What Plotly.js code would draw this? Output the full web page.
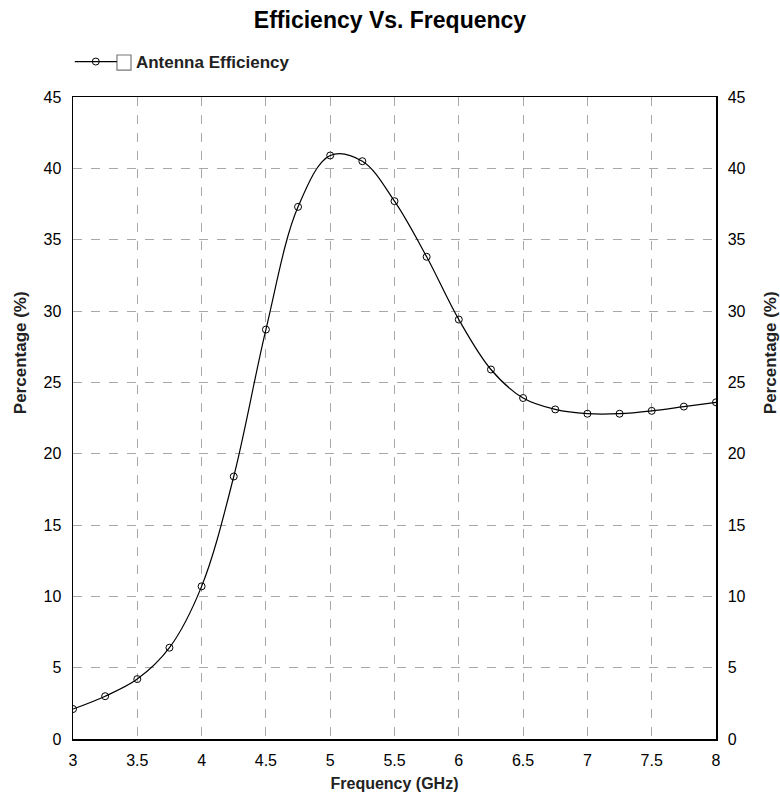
<!DOCTYPE html>
<html>
<head>
<meta charset="utf-8">
<script src="https://cdn.plot.ly/plotly-3.0.1.min.js"></script>
<style>html,body{margin:0;padding:0;background:#fff;}#chart{width:780px;height:793px;}</style>
</head>
<body>
<div id="chart"></div>
<script>
var frequency = [3, 3.25, 3.5, 3.75, 4, 4.25, 4.5, 4.75, 5, 5.25, 5.5, 5.75, 6, 6.25, 6.5, 6.75, 7, 7.25, 7.5, 7.75, 8];
var efficiency = [2.1, 3.0, 4.2, 6.4, 10.7, 18.4, 28.7, 37.3, 40.9, 40.5, 37.7, 33.8, 29.4, 25.9, 23.9, 23.1, 22.8, 22.8, 23.0, 23.3, 23.6];
var xTicks = [3, 3.5, 4, 4.5, 5, 5.5, 6, 6.5, 7, 7.5, 8];
var yTicks = [0, 5, 10, 15, 20, 25, 30, 35, 40, 45];

var fnt = '"Liberation Sans Narrow", "Arial Narrow", "Liberation Sans", Arial, sans-serif';
var fntB = '"Liberation Sans", Arial, sans-serif';

var traces = [
  {
    x: frequency, y: efficiency, type: 'scatter', mode: 'lines+markers',
    name: '\u00a0\u00a0\u00a0Antenna Efficiency',
    line: {color: '#000', width: 1.2, shape: 'spline', smoothing: 1},
    marker: {symbol: 'circle-open', size: 7, color: '#000', line: {width: 1}},
    xaxis: 'x', yaxis: 'y'
  },
  {
    x: frequency, y: efficiency, type: 'scatter', mode: 'lines',
    showlegend: false, hoverinfo: 'skip', opacity: 0,
    xaxis: 'x', yaxis: 'y2'
  }
];

var axisCommon = {
  range: [0, 45], tickvals: yTicks, ticktext: yTicks.map(String),
  showgrid: true, gridcolor: '#a8a8a8', griddash: 'dash', gridwidth: 1,
  showline: true, linecolor: '#000', linewidth: 1.5,
  ticks: '', zeroline: false, ticklabelstandoff: 7,
  tickfont: {family: fnt, size: 16, color: '#000'}
};

var titleFont = {family: fntB, size: 17, color: '#222', weight: 'bold'};

var layout = {
  width: 780, height: 793,
  margin: {l: 73, r: 64, t: 97, b: 54},
  paper_bgcolor: '#fff', plot_bgcolor: '#fff',
  title: {text: '<b>Efficiency Vs. Frequency</b>', font: {family: fntB, size: 23, color: '#000'}, x: 0.5, xanchor: 'center', y: 0.975, yanchor: 'middle'},
  showlegend: true,
  legend: {x: -0.005, y: 1.0545, xanchor: 'left', yanchor: 'middle', orientation: 'h', itemwidth: 42,
    font: {family: fntB, size: 17, color: '#222', weight: 'bold'}, bgcolor: 'rgba(0,0,0,0)'},
  xaxis: {
    range: [3, 8], tickvals: xTicks, ticktext: xTicks.map(String),
    showgrid: true, gridcolor: '#a8a8a8', griddash: 'dash', gridwidth: 1,
    showline: true, linecolor: '#000', linewidth: 1.5, mirror: true,
    ticks: '', zeroline: false, ticklabelstandoff: 6,
    tickfont: {family: fnt, size: 16, color: '#000'},
    title: {text: 'Frequency (GHz)', font: {family: fntB, size: 16, color: '#222', weight: 'bold'}, standoff: 10}
  },
  yaxis: Object.assign({}, axisCommon, {side: 'left'}),
  yaxis2: Object.assign({}, axisCommon, {side: 'right', overlaying: 'y', showgrid: false}),
  annotations: [
    {text: '<b>Percentage (%)</b>', xref: 'paper', yref: 'paper', x: -0.0824, y: 0.601, textangle: -90,
     showarrow: false, xanchor: 'center', yanchor: 'middle', font: titleFont},
    {text: '<b>Percentage (%)</b>', xref: 'paper', yref: 'paper', x: 1.084, y: 0.601, textangle: -90,
     showarrow: false, xanchor: 'center', yanchor: 'middle', font: titleFont}
  ],
  shapes: [
    {type: 'rect', xref: 'paper', yref: 'paper', x0: 0.0684, x1: 0.0902, y0: 1.042, y1: 1.0654,
     line: {color: '#777', width: 1.2}, fillcolor: '#fff'}
  ]
};

Plotly.newPlot('chart', traces, layout, {displayModeBar: false, staticPlot: true});
</script>
</body>
</html>
